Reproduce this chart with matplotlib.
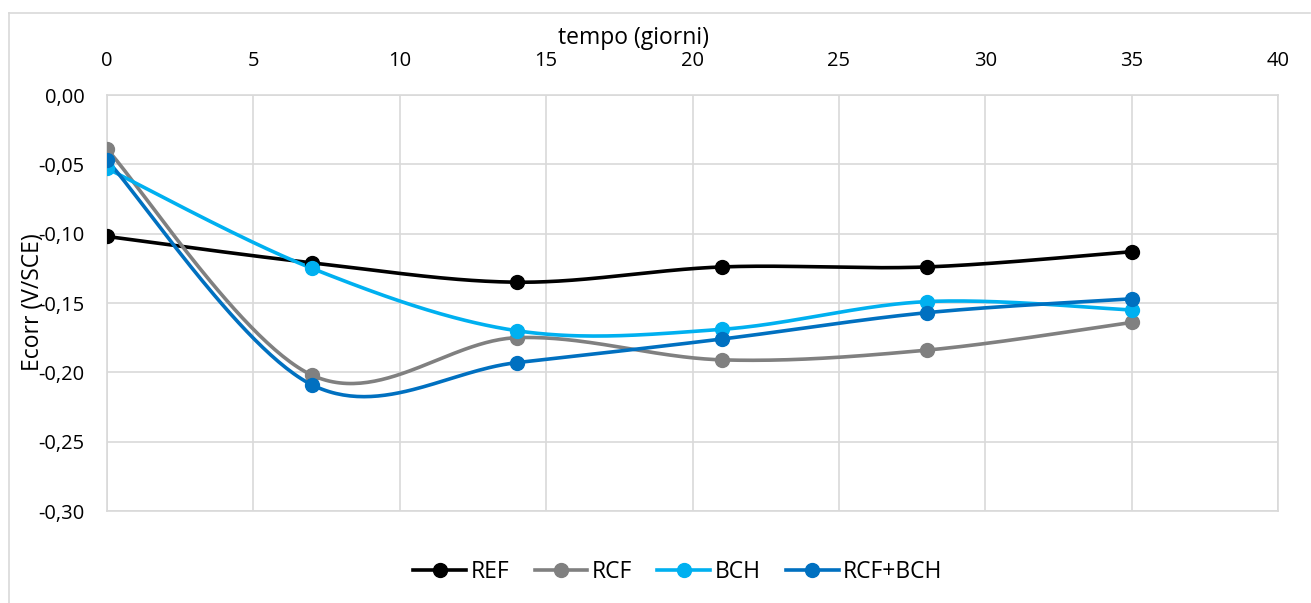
import numpy as np
import matplotlib
matplotlib.use("Agg")
import matplotlib.pyplot as plt
from matplotlib.lines import Line2D
from matplotlib.ticker import FuncFormatter, MultipleLocator

plt.rcParams['font.family'] = ['Open Sans', 'DejaVu Sans']

# Corrosion potential over curing time
days = [0, 7, 14, 21, 28, 35]
ref = [-0.102, -0.121, -0.135, -0.124, -0.124, -0.113]
rcf = [-0.039, -0.202, -0.175, -0.191, -0.184, -0.164]
bch = [-0.053, -0.125, -0.170, -0.169, -0.149, -0.155]
rcf_bch = [-0.047, -0.209, -0.193, -0.176, -0.157, -0.147]

series_names = ['REF', 'RCF', 'BCH', 'RCF+BCH']
series_values = [ref, rcf, bch, rcf_bch]
series_colors = ['#000000', '#808080', '#00B0F0', '#0070C0']


def smooth_curve(xs, ys, n=60):
    """Catmull-Rom style Bezier smoothing through every point."""
    p = np.column_stack([xs, ys]).astype(float)
    p_ext = np.vstack([p[0], p, p[-1]])
    t = np.linspace(0, 1, n)[:, None]
    parts = []
    for i in range(len(p) - 1):
        p0, p1, p2, p3 = p_ext[i], p_ext[i + 1], p_ext[i + 2], p_ext[i + 3]
        c1 = p1 + (p2 - p0) / 6.0
        c2 = p2 - (p3 - p1) / 6.0
        seg = ((1 - t) ** 3) * p1 + 3 * ((1 - t) ** 2) * t * c1 \
            + 3 * (1 - t) * t ** 2 * c2 + t ** 3 * p2
        parts.append(seg if i == 0 else seg[1:])
    out = np.vstack(parts)
    return out[:, 0], out[:, 1]


W, H = 1311, 603
FS_TICK = 14.5
FS_TEXT = 16.5
fig = plt.figure(figsize=(W / 100, H / 100), dpi=100)
ax = fig.add_axes([107 / W, 1 - 511 / H, (1278 - 107) / W, (511 - 95) / H])

grid_c = '#d9d9d9'
for name, vals, col in zip(series_names, series_values, series_colors):
    sx, sy = smooth_curve(days, vals)
    ax.plot(sx, sy, color=col, lw=2.6, solid_capstyle='round', zorder=3)
    ax.plot(days, vals, 'o', color=col, ms=10, zorder=4)

ax.set_xlim(0, 40)
ax.set_ylim(-0.30, 0.0)
ax.xaxis.set_major_locator(MultipleLocator(5))
ax.yaxis.set_major_locator(MultipleLocator(0.05))
ax.yaxis.set_major_formatter(FuncFormatter(lambda v, _: f"{v:.2f}".replace('.', ',').replace('-0,00', '0,00')))
ax.xaxis.tick_top()
ax.tick_params(axis='both', length=0, labelsize=FS_TICK, colors='#000000')
ax.tick_params(axis='x', pad=17)
ax.tick_params(axis='y', pad=16)
ax.grid(True, color=grid_c, lw=1.2, zorder=0)
for s in ax.spines.values():
    s.set_color(grid_c)
    s.set_linewidth(1.2)

fig.text(633 / W, 1 - 38 / H, 'tempo (giorni)', ha='center', va='center', fontsize=FS_TEXT)
fig.text(33 / W, 1 - 302 / H, 'Ecorr (V/SCE)', ha='center', va='center',
         rotation=90, fontsize=FS_TEXT)

# outer chart frame
fig.add_artist(Line2D([9 / W, 9 / W], [1 - 13 / H, 0], transform=fig.transFigure,
                      color=grid_c, lw=1.2))
fig.add_artist(Line2D([9 / W, 1310 / W], [1 - 13 / H, 1 - 13 / H],
                      transform=fig.transFigure, color=grid_c, lw=1.2))

handles = [Line2D([], [], color=c, lw=2.6, marker='o', ms=10) for c in series_colors]
fig.legend(handles, series_names, loc='center', bbox_to_anchor=(678 / W, 1 - 572 / H),
           ncol=4, frameon=False, fontsize=FS_TEXT, handlelength=2.3, handletextpad=0.2,
           columnspacing=1.1)

fig.savefig('out.png', dpi=100, facecolor='white')
